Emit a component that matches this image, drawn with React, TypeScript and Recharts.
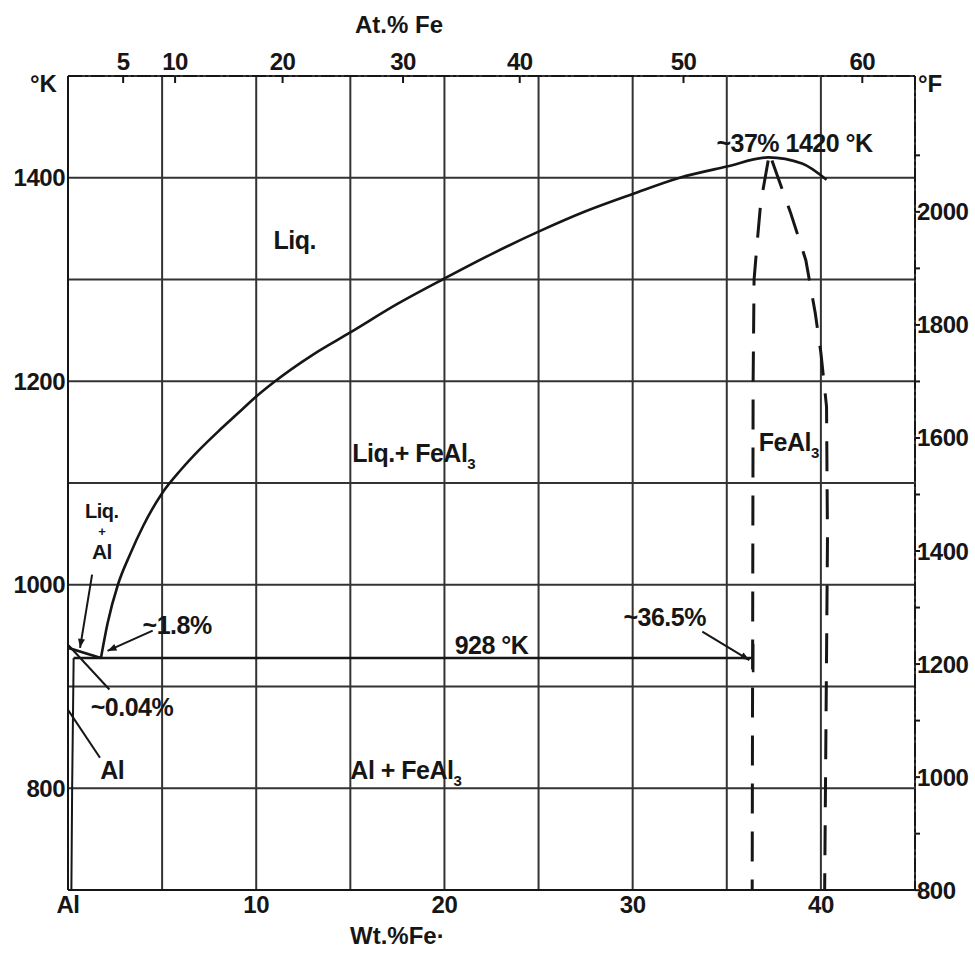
import {
  CartesianGrid,
  Line,
  LineChart,
  ReferenceDot,
  ReferenceLine,
  XAxis,
  YAxis,
} from "recharts";

const FONT = "'Liberation Sans', Arial, sans-serif";
const INK = "#161616";
const GRID = "#333";

// wt.% Fe (x) vs temperature in K (y)
const liquidusAl = [
  { w: 0, k: 938 },
  { w: 1.75, k: 928 },
];

const liquidusFeAl3 = [
  { w: 1.75, k: 928 },
  { w: 2.1, k: 962 },
  { w: 2.65, k: 1000 },
  { w: 3.3, k: 1030 },
  { w: 4.0, k: 1058 },
  { w: 5.0, k: 1090 },
  { w: 6.0, k: 1113 },
  { w: 7.0, k: 1133 },
  { w: 8.0, k: 1151 },
  { w: 9.0, k: 1168 },
  { w: 10.0, k: 1185 },
  { w: 11.0, k: 1200 },
  { w: 13.0, k: 1226 },
  { w: 15.0, k: 1248 },
  { w: 17.5, k: 1276 },
  { w: 20.0, k: 1301 },
  { w: 22.5, k: 1325 },
  { w: 25.0, k: 1347 },
  { w: 27.5, k: 1367 },
  { w: 30.0, k: 1384 },
  { w: 32.5, k: 1400 },
  { w: 35.0, k: 1411 },
  { w: 37.2, k: 1420 },
  { w: 39.0, k: 1414 },
  { w: 40.3, k: 1398 },
];

const feAl3Left = [
  { w: 37.2, k: 1417 },
  { w: 36.8, k: 1375 },
  { w: 36.6, k: 1333 },
  { w: 36.45, k: 1300 },
  { w: 36.4, k: 1200 },
  { w: 36.35, k: 700 },
];

const feAl3Right = [
  { w: 37.4, k: 1417 },
  { w: 38.4, k: 1365 },
  { w: 39.2, k: 1319 },
  { w: 39.7, k: 1267 },
  { w: 40.0, k: 1228 },
  { w: 40.3, k: 1175 },
  { w: 40.35, k: 1044 },
  { w: 40.2, k: 700 },
];

const eutectic = [
  { w: 0.3, k: 928 },
  { w: 36.4, k: 928 },
];

const eutecticEndMark = [
  { w: 36.4, k: 942 },
  { w: 36.4, k: 914 },
];

const alSolvus = [
  { w: 0.3, k: 928 },
  { w: 0.22, k: 800 },
  { w: 0.18, k: 700 },
];

// axis ticks
const kTicks = [700, 800, 900, 1000, 1100, 1200, 1300, 1400, 1500];
const kLabels = [800, 1000, 1200, 1400];
const fTicks = [800, 900, 1000, 1100, 1200, 1300, 1400, 1500, 1600, 1700, 1800, 1900, 2000, 2100];
const wtTicks = [0, 5, 10, 15, 20, 25, 30, 35, 40, 45];
const wtLabels: Record<number, string> = { 0: "Al", 10: "10", 20: "20", 30: "30", 40: "40" };
// At.% Fe scale along the top, placed on the wt.% axis
const atTickPos = [2.93, 5.69, 11.4, 17.8, 24.0, 32.7, 42.2];
const atTickLabels = ["5", "10", "20", "30", "40", "50", "60"];

const kToF = (k: number) => (k - 273.15) * 1.8 + 32;

// leader lines, in data coords
const leaders = [
  { x1: 1.28, y1: 1010, x2: 0.64, y2: 938, arrow: true },
  { x1: 4.5, y1: 955, x2: 2.1, y2: 935, arrow: true },
  { x1: 0, y1: 941, x2: 2.2, y2: 897, arrow: false },
  { x1: 0, y1: 877, x2: 1.7, y2: 830, arrow: false },
  { x1: 33.7, y1: 954, x2: 36.2, y2: 926, arrow: true },
];

// annotations
const notes = [
  { w: 12.05, k: 1339, text: "Liq.", anchor: "middle" },
  { w: 15.1, k: 1129, text: "Liq.+ FeAl", sub: "3", anchor: "start" },
  { w: 1.8, k: 1073, text: "Liq.", anchor: "middle", size: 20 },
  { w: 1.8, k: 1053, text: "+", anchor: "middle", size: 13 },
  { w: 1.8, k: 1033, text: "Al", anchor: "middle", size: 21 },
  { w: 5.8, k: 960, text: "~1.8%", anchor: "middle" },
  { w: 3.4, k: 880, text: "~0.04%", anchor: "middle" },
  { w: 2.35, k: 818, text: "Al", anchor: "middle" },
  { w: 22.5, k: 941, text: "928 °K", anchor: "middle" },
  { w: 31.7, k: 968, text: "~36.5%", anchor: "middle" },
  { w: 38.6, k: 1434, text: "~37% 1420 °K", anchor: "middle" },
  { w: 36.7, k: 1140, text: "FeAl", sub: "3", anchor: "start" },
  { w: 15.0, k: 818, text: "Al + FeAl", sub: "3", anchor: "start" },
];

function noteShape(text: string, sub: string | undefined, anchor: string, size: number) {
  return (p: any) => (
    <text
      x={p.cx}
      y={p.cy}
      dy="0.36em"
      textAnchor={anchor}
      fontSize={size}
      fontWeight={700}
      fontFamily={FONT}
      fill={INK}
      letterSpacing={-0.5}
    >
      {text}
      {sub ? (
        <tspan dy={7} fontSize={size * 0.6}>
          {sub}
        </tspan>
      ) : null}
    </text>
  );
}

function atTickShape(label: string) {
  return (p: any) => (
    <g>
      <line x1={p.cx} y1={p.cy} x2={p.cx} y2={p.cy + 7} stroke={INK} strokeWidth={2} />
      <text
        x={p.cx}
        y={p.cy - 6}
        textAnchor="middle"
        fontSize={24}
        fontWeight={700}
        fontFamily={FONT}
        fill={INK}
        letterSpacing={-0.5}
      >
        {label}
      </text>
    </g>
  );
}

function ArrowLine(p: any) {
  const { x1, y1, x2, y2, arrow } = p;
  const a = Math.atan2(y2 - y1, x2 - x1);
  const L = 9;
  const W = 3.5;
  const bx = x2 - L * Math.cos(a);
  const by = y2 - L * Math.sin(a);
  const pts = `${x2},${y2} ${bx - W * Math.sin(a)},${by + W * Math.cos(a)} ${bx + W * Math.sin(a)},${by - W * Math.cos(a)}`;
  return (
    <g>
      <line x1={x1} y1={y1} x2={x2} y2={y2} stroke={INK} strokeWidth={2} />
      {arrow ? <polygon points={pts} fill={INK} /> : null}
    </g>
  );
}

const tickStyle = {
  fontSize: 24,
  fontWeight: 700,
  fontFamily: FONT,
  fill: INK,
  letterSpacing: -0.5,
};

const curve = { stroke: INK, strokeWidth: 2.6, dot: false, isAnimationActive: false } as const;

export default function App() {
  return (
    <div style={{ position: "absolute", left: 0, top: 0, width: 975, height: 962, background: "#fff" }}>
      <LineChart
        width={975}
        height={962}
        margin={{ top: 36, right: 0, bottom: 32, left: 8 }}
        style={{ fontFamily: FONT }}
      >
        <CartesianGrid xAxisId="wt" yAxisId="k" stroke={GRID} strokeWidth={2} />
        <XAxis
          xAxisId="wt"
          dataKey="w"
          type="number"
          domain={[0, 45]}
          ticks={wtTicks}
          interval={0}
          allowDataOverflow
          height={40}
          tickLine={false}
          tickSize={0}
          tickMargin={6}
          tickFormatter={(v: number) => wtLabels[v] ?? ""}
          tick={tickStyle}
          axisLine={{ stroke: INK, strokeWidth: 2 }}
        />
        <XAxis
          xAxisId="at"
          orientation="top"
          type="number"
          domain={[0, 45]}
          allowDataOverflow
          height={40}
          tick={false}
          tickLine={false}
          axisLine={{ stroke: INK, strokeWidth: 2, strokeDasharray: "14 3 3 3" }}
        />
        <YAxis
          yAxisId="k"
          type="number"
          domain={[700, 1500]}
          ticks={kTicks}
          interval={0}
          allowDataOverflow
          width={60}
          tickLine={false}
          tickSize={2}
          tickMargin={1}
          tickFormatter={(v: number) => (kLabels.includes(v) ? String(v) : "")}
          tick={tickStyle}
          axisLine={{ stroke: INK, strokeWidth: 2 }}
        />
        <YAxis
          yAxisId="f"
          orientation="right"
          type="number"
          domain={[kToF(700), kToF(1500)]}
          ticks={fTicks}
          interval={0}
          allowDataOverflow
          width={60}
          tickLine={{ stroke: INK, strokeWidth: 2 }}
          tickSize={5}
          tickMargin={-3}
          tickFormatter={(v: number) => (v % 200 === 0 ? String(v) : "")}
          tick={tickStyle}
          axisLine={{ stroke: INK, strokeWidth: 2, strokeDasharray: "14 3 3 3" }}
        />

        <Line data={liquidusAl} xAxisId="wt" yAxisId="k" dataKey="k" type="linear" {...curve} />
        <Line data={liquidusFeAl3} xAxisId="wt" yAxisId="k" dataKey="k" type="monotone" {...curve} />
        <Line data={eutectic} xAxisId="wt" yAxisId="k" dataKey="k" type="linear" {...curve} />
        <Line data={eutecticEndMark} xAxisId="wt" yAxisId="k" dataKey="k" type="linear" {...curve} />
        <Line data={alSolvus} xAxisId="wt" yAxisId="k" dataKey="k" type="linear" {...curve} strokeWidth={2} />
        <Line
          data={feAl3Left}
          xAxisId="wt"
          yAxisId="k"
          dataKey="k"
          type="linear"
          {...curve}
          strokeWidth={3}
          strokeDasharray="30 18"
        />
        <Line
          data={feAl3Right}
          xAxisId="wt"
          yAxisId="k"
          dataKey="k"
          type="linear"
          {...curve}
          strokeWidth={3}
          strokeDasharray="30 18"
        />

        {leaders.map((l, i) => (
          <ReferenceLine
            key={`ld${i}`}
            xAxisId="wt"
            yAxisId="k"
            segment={[
              { x: l.x1, y: l.y1 },
              { x: l.x2, y: l.y2 },
            ]}
            ifOverflow="visible"
            shape={(p: any) => <ArrowLine {...p} arrow={l.arrow} />}
          />
        ))}

        {atTickPos.map((w, i) => (
          <ReferenceDot
            key={`at${i}`}
            xAxisId="wt"
            yAxisId="k"
            x={w}
            y={1500}
            r={0}
            ifOverflow="visible"
            shape={atTickShape(atTickLabels[i])}
          />
        ))}

        {notes.map((n, i) => (
          <ReferenceDot
            key={`nt${i}`}
            xAxisId="wt"
            yAxisId="k"
            x={n.w}
            y={n.k}
            r={0}
            ifOverflow="visible"
            shape={noteShape(n.text, n.sub, n.anchor, n.size ?? 25)}
          />
        ))}
      </LineChart>

      <div style={{ position: "absolute", left: 355, top: 11, font: `700 24px ${FONT}`, color: INK }}>
        At.% Fe
      </div>
      <div style={{ position: "absolute", left: 30, top: 70, font: `700 24px ${FONT}`, color: INK }}>
        °K
      </div>
      <div style={{ position: "absolute", left: 918, top: 70, font: `700 24px ${FONT}`, color: INK }}>
        °F
      </div>
      <div style={{ position: "absolute", left: 350, top: 922, font: `700 24px ${FONT}`, color: INK }}>
        Wt.%Fe·
      </div>
    </div>
  );
}
